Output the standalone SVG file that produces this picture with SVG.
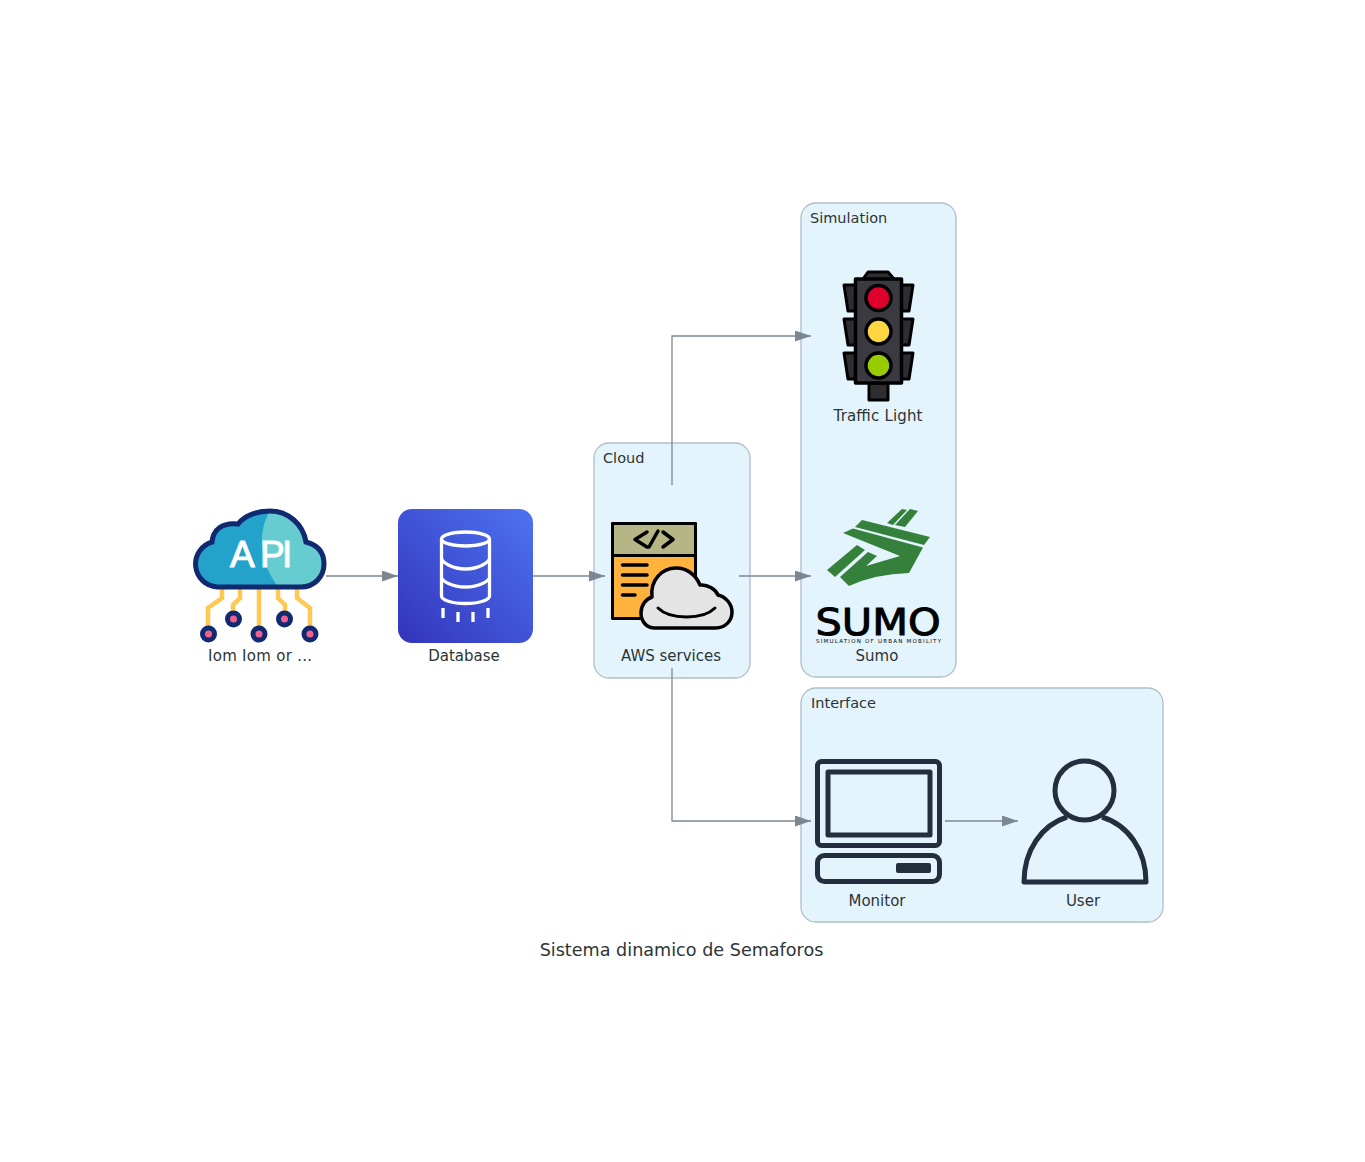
<svg xmlns="http://www.w3.org/2000/svg" width="1365" height="1162" viewBox="0 0 1365 1162">
<style>
text{font-family:"DejaVu Sans",sans-serif;fill:#2d3436}
.lbl{font-size:15px;text-anchor:middle}
.ttl{font-size:14.500px}
.cluster{fill:#e3f4fd;stroke:#b0bec5;stroke-width:1.3}
.edge{fill:none;stroke:#7b8894;stroke-width:1.3;marker-end:url(#arr)}
.k{stroke:#000;stroke-width:3.500;stroke-linejoin:round;stroke-linecap:round}
.m{fill:none;stroke:#232f3e;stroke-width:5;stroke-linejoin:round}
.y{fill:none;stroke:#ffc850;stroke-width:4.500}
.dot{fill:#f0608f;stroke:#10296f;stroke-width:5}
.w{fill:none;stroke:#fff;stroke-width:3.300}
</style>
<defs>
<marker id="arr" markerUnits="userSpaceOnUse" markerWidth="17" markerHeight="12" refX="16" refY="5.500" orient="auto"><path d="M0 0L16 5.500L0 11Z" fill="#7b8894"/></marker>
<linearGradient id="db" x1="0" y1="1" x2="1" y2="0"><stop offset="0" stop-color="#3334b9"/><stop offset="1" stop-color="#4d72f3"/></linearGradient>
<path id="cl" d="M217 587A23 23 0 0 1 212 542C213 530 222 522 238 524C245 515 258 511 270 511C288 511 303 524 306 542C318 545 324 553 324 564C324 577 314 587 301 587Z"/>
<clipPath id="clc"><use href="#cl"/></clipPath>
</defs>
<rect width="1365" height="1162" fill="#fff"/>
<g id="cluster-cloud"><rect class="cluster" x="594" y="443" width="156" height="235" rx="15"/><text class="ttl" x="603" y="462.500">Cloud</text></g>
<g id="cluster-simulation"><rect class="cluster" x="801" y="203" width="155" height="474" rx="15"/><text class="ttl" x="810" y="222.500">Simulation</text></g>
<g id="cluster-interface"><rect class="cluster" x="801" y="688" width="362" height="234" rx="15"/><text class="ttl" x="811" y="707.500">Interface</text></g>
<g id="connectors">
<path class="edge" d="M326 576H398"/>
<path class="edge" d="M533 576H605"/>
<path class="edge" d="M739 576H811"/>
<path class="edge" d="M672 485V336H811"/>
<path class="edge" d="M672 668V821H811"/>
<path class="edge" d="M945 821H1018"/>
</g>
<g id="node-api">
<path class="y" d="M222 588V598L208 608V627M240 588V598L233 605V612M259 588V627M278 588V598L285 605V612M297 588V598L310 608V627"/>
<circle class="dot" cx="208.500" cy="634" r="6"/><circle class="dot" cx="233.500" cy="619" r="6"/><circle class="dot" cx="259" cy="634" r="6"/><circle class="dot" cx="284.500" cy="619" r="6"/><circle class="dot" cx="310" cy="634" r="6"/>
<use href="#cl" fill="#23a3cc"/>
<path clip-path="url(#clc)" d="M274 505C258 525 255 560 282 592H330V505Z" fill="#66ccd0"/>
<use href="#cl" fill="none" stroke="#10296f" stroke-width="5"/>
<text x="230 260 282" y="566.500" font-size="37" stroke="#fff" stroke-width="1" style="font-family:'Liberation Sans',sans-serif;fill:#fff">API</text>
<text class="lbl" x="260" y="661" textLength="104" lengthAdjust="spacing">Iom Iom or ...</text>
</g>
<g id="node-database">
<rect x="398" y="509" width="135" height="134" rx="14" fill="url(#db)"/>
<ellipse class="w" cx="465.500" cy="539" rx="24" ry="7"/>
<path class="w" d="M441.500 539V596C441.500 600 452 603.500 465.500 603.500S489.500 600 489.500 596V539M441.500 558C441.500 562 452 569 465.500 569S489.500 562 489.500 558M441.500 577C441.500 581 452 587 465.500 587S489.500 581 489.500 577M443 608V618M458 612V622M473 612V622M488 608V618"/>
<text class="lbl" x="464" y="661">Database</text>
</g>
<g id="node-aws">
<rect class="k" x="612.500" y="523.500" width="83" height="95" fill="#ffb23c" style="stroke-width:3"/>
<rect class="k" x="612.500" y="523.500" width="83" height="32" fill="#b5b585" style="stroke-width:3"/>
<path class="k" fill="none" d="M647 532L635 539.500L647 547M658 531L649 547M663 532L673 539.500L663 547M622.500 565H647M622.500 575H647M622.500 585H647M622.500 595H635"/>
<path class="k" fill="#e4e4e4" d="M655 628C646 628 641 621 641 613C641 605 646 599 652 597C650 580 662 568 676 568C687 568 696 575 700 585C708 584 716 590 718 595C726 597 732 604 732 612C732 621 725 628 716 628Z"/>
<path class="k" fill="none" d="M658 608C670 620 703 620 715 608" style="stroke-width:3"/>
<text class="lbl" x="671" y="661">AWS services</text>
</g>
<g id="node-traffic-light">
<g class="k" fill="#2e2e32" style="stroke-width:3">
<path d="M856 285H844L848 311H856ZM856 319H844L848 345H856ZM856 353H844L848 379H856Z"/>
<path d="M901 285H913L909 311H901ZM901 319H913L909 345H901ZM901 353H913L909 379H901Z"/>
<path d="M863 279L868 272H888L894 279Z"/>
<rect x="869" y="383" width="19" height="17"/>
</g>
<rect class="k" x="855.500" y="279" width="46" height="104" fill="#3a3a40"/>
<circle class="k" cx="878.500" cy="298" r="12.500" fill="#e0002c"/>
<circle class="k" cx="878.500" cy="331.500" r="12.500" fill="#ffd63f"/>
<circle class="k" cx="878.500" cy="365.500" r="12.500" fill="#97cd00"/>
<text class="lbl" x="878" y="421" textLength="89" lengthAdjust="spacing">Traffic Light</text>
</g>
<g id="node-sumo">
<g fill="#35803a">
<path d="M862 520L930 537L924 545L855 527Z"/>
<path d="M843 533L853 528.500L923 547.500L909 573Q875 574 849 586L840 577L868 552L877 556L866 566L900 556Z"/>
<path d="M827 570L857 545L865 550L835 577Z"/>
<path d="M887 523L902 509L907 510L893 525ZM895 525L910 509L918 511L905 527Z"/>
</g>
<text x="815.500" y="635" font-size="38" textLength="125" lengthAdjust="spacingAndGlyphs" stroke="#000" stroke-width="1" style="fill:#000">SUMO</text>
<text x="816" y="643" font-size="5.500" textLength="125" lengthAdjust="spacing" style="fill:#000">SIMULATION OF URBAN MOBILITY</text>
<text class="lbl" x="877" y="661">Sumo</text>
</g>
<g id="node-monitor">
<rect class="m" x="817.500" y="761.500" width="122" height="84" rx="4"/>
<rect class="m" x="828" y="772" width="102" height="63"/>
<rect class="m" x="817.500" y="855.500" width="122" height="26" rx="7"/>
<rect x="896" y="863" width="35" height="10" rx="2" fill="#232f3e"/>
<text class="lbl" x="877" y="906">Monitor</text>
</g>
<g id="node-user">
<circle class="m" cx="1084.500" cy="790.500" r="29.500"/>
<path class="m" d="M1067 817C1042 825 1024 850 1024 882H1146C1146 850 1128 825 1102 817"/>
<text class="lbl" x="1083" y="906">User</text>
</g>
<text id="title" x="681.500" y="956" font-size="17.600" text-anchor="middle">Sistema dinamico de Semaforos</text>
</svg>
